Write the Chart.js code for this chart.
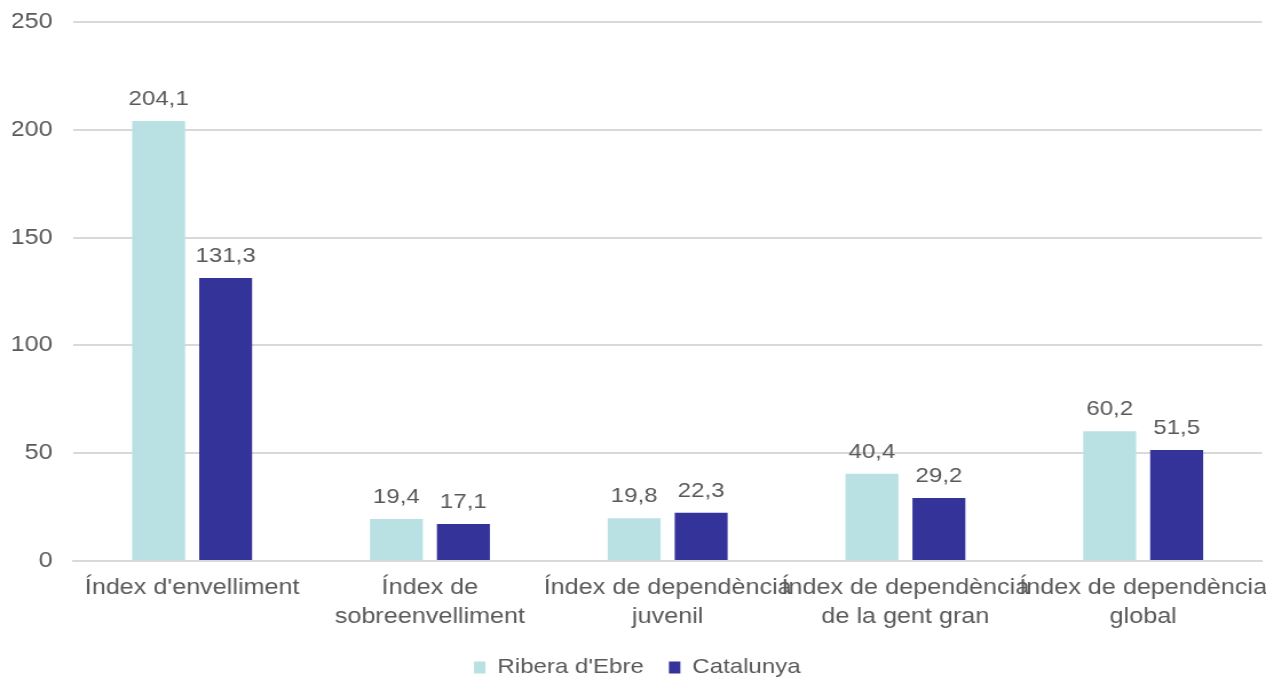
<!DOCTYPE html>
<html><head><meta charset="utf-8">
<script src="https://cdn.jsdelivr.net/npm/chart.js@4/dist/chart.umd.min.js"></script>
<style>
html,body{margin:0;padding:0;background:#fff;overflow:hidden}
#wrap{width:1106px;height:678px;transform:scaleX(1.1447);transform-origin:0 0}
</style>
</head><body><div id="wrap"><canvas id="c"></canvas></div>
<script>
const categories = [["Índex d'envelliment"],["Índex de","sobreenvelliment"],["Índex de dependència","juvenil"],["Índex de dependència","de la gent gran"],["Índex de dependència","global"]];
const seriesNames = ["Ribera d'Ebre","Catalunya"];
const ribera = [204.1,19.4,19.8,40.4,60.2];
const catalunya = [131.3,17.1,22.3,29.2,51.5];
const yTicks = [0,50,100,150,200,250];

const FONT = "'Liberation Sans', Arial, sans-serif";
const GREY = '#595959';

const labelPlugin = {
  id:'vals',
  afterDatasetsDraw(chart){
    const ctx = chart.ctx;
    ctx.save();
    ctx.font = '21px ' + FONT;
    ctx.fillStyle = GREY;
    ctx.textAlign = 'center';
    ctx.textBaseline = 'alphabetic';
    chart.data.datasets.forEach((ds,i)=>{
      chart.getDatasetMeta(i).data.forEach((el,j)=>{
        ctx.fillText(ds.data[j].toFixed(1).replace('.',','), el.x, el.y - 16);
      });
    });
    ctx.restore();
  }
};

new Chart(document.getElementById('c'),{
  type:'bar',
  data:{labels:categories,datasets:[
    {label:seriesNames[0],data:ribera,backgroundColor:'#B9E0E3'},
    {label:seriesNames[1],data:catalunya,backgroundColor:'#333399'}
  ]},
  options:{
    responsive:true,maintainAspectRatio:false,animation:false,
    categoryPercentage:0.5635,barPercentage:0.79,
    layout:{padding:{left:11,right:3.5,top:22,bottom:-10}},
    plugins:{
      legend:{position:'bottom',labels:{boxWidth:10,boxHeight:12,color:GREY,font:{family:FONT,size:21},padding:22}},
      tooltip:{enabled:false}
    },
    scales:{
      x:{grid:{display:false},border:{display:true,color:'#d9d9d9',width:2},
        afterFit:(s)=>{s.paddingLeft=0;s.paddingRight=0;},
        ticks:{color:GREY,font:{family:FONT,size:22,lineHeight:1.32},maxRotation:0,autoSkip:false,padding:4}},
      y:{min:0,max:250,afterBuildTicks:(s)=>{s.ticks=yTicks.map(v=>({value:v}));},
        afterFit:(s)=>{s.width=53;s.paddingTop=0;s.paddingBottom=0;},
        grid:{color:'#d9d9d9',lineWidth:2,drawTicks:false},border:{display:false},
        ticks:{color:GREY,font:{family:FONT,size:22},padding:18}}
    }
  },
  plugins:[labelPlugin]
});
</script></body></html>
